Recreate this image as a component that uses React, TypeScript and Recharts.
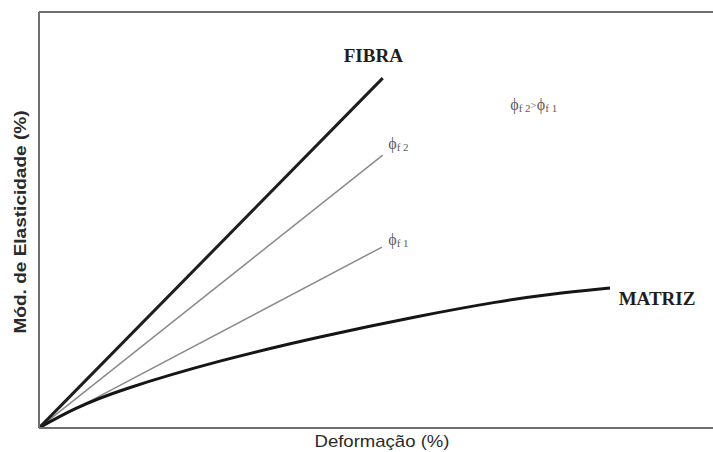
import React from "react";
import { LineChart, Line, XAxis, YAxis, ReferenceLine, ReferenceDot } from "recharts";

const fibraData = [
  { x: 0, y: 0 },
  { x: 51, y: 84.1 },
];
const phi2Data = [
  { x: 0, y: 0 },
  { x: 51, y: 65.6 },
];
const phi1Data = [
  { x: 0, y: 0 },
  { x: 50.9, y: 43.5 },
];
const matrizData = [
  { x: 0, y: 0 },
  { x: 5, y: 4.6 },
  { x: 12, y: 9.2 },
  { x: 26.85, y: 16.3 },
  { x: 41.69, y: 22 },
  { x: 56.53, y: 27 },
  { x: 68.4, y: 30.5 },
  { x: 75.82, y: 32.2 },
  { x: 84.72, y: 33.65 },
];

const xTitle = "Deformação (%)";
const yTitle = "Mód. de Elasticidade (%)";

const labelFibra = { x: 49.6, y: 89.7, text: "FIBRA" };
const labelMatriz = { x: 91.7, y: 31.25, text: "MATRIZ" };
const labelPhi2 = { x: 53.6, y: 68.3, sub: "f 2" };
const labelPhi1 = { x: 53.6, y: 45.2, sub: "f 1" };
const labelRel = { x: 73.4, y: 77.6 };

const AXIS = "#6f6f6f";
const SERIF = "'Liberation Serif', 'Times New Roman', serif";
const SANS = "'Liberation Sans', Arial, sans-serif";

const BoldText = (text: string) => (props: any) => (
  <text
    x={props.cx}
    y={props.cy + 7}
    textAnchor="middle"
    fontFamily={SERIF}
    fontWeight="bold"
    fontSize={19}
    fill="#1e1e1e"
  >
    {text}
  </text>
);

const PhiText = (sub: string) => (props: any) => (
  <text x={props.cx - 12} y={props.cy + 5} fontFamily={SERIF} fill="#5c5c5c">
    <tspan fontSize={16}>ϕ</tspan>
    <tspan fontSize={11} dy={2}>{sub}</tspan>
  </text>
);

const RelText = (props: any) => (
  <text x={props.cx} y={props.cy + 5} textAnchor="middle" fontFamily={SERIF} fill="#5c5c5c">
    <tspan fontSize={16}>ϕ</tspan>
    <tspan fontSize={11} dy={2}>f 2</tspan>
    <tspan fontSize={11} dy={-3}>&gt;</tspan>
    <tspan fontSize={16} dy={1}>ϕ</tspan>
    <tspan fontSize={11} dy={2}>f 1</tspan>
  </text>
);

const YTitle = (props: any) => {
  const vb = props.viewBox || props;
  const x = vb.x + vb.width - 13;
  const y = vb.y + vb.height / 2 + 2;
  return (
    <text
      x={x}
      y={y}
      transform={`rotate(-90, ${x}, ${y})`}
      textAnchor="middle"
      fontFamily={SANS}
      fontWeight="bold"
      fontSize={17}
      fill="#2a2a2a"
      textLength={223}
      lengthAdjust="spacingAndGlyphs"
    >
      {yTitle}
    </text>
  );
};

const XTitle = (props: any) => {
  const vb = props.viewBox || props;
  const x = vb.x + vb.width / 2 + 6;
  const y = vb.y + 19;
  return (
    <text
      x={x}
      y={y}
      textAnchor="middle"
      fontFamily={SANS}
      fontSize={17}
      fill="#2a2a2a"
      textLength={135}
      lengthAdjust="spacingAndGlyphs"
    >
      {xTitle}
    </text>
  );
};

export default function App() {
  return (
    <div style={{ position: "absolute", left: 0, top: 0, background: "#fff" }}>
      <LineChart width={713} height={452} margin={{ top: 12, right: 0, bottom: 0, left: 0 }}>
        <XAxis
          type="number"
          dataKey="x"
          domain={[0, 100]}
          allowDataOverflow
          tick={false}
          tickLine={false}
          height={24}
          axisLine={{ stroke: AXIS, strokeWidth: 2 }}
          label={{ content: XTitle }}
        />
        <YAxis
          type="number"
          dataKey="y"
          domain={[0, 100]}
          allowDataOverflow
          tick={false}
          tickLine={false}
          width={39}
          axisLine={{ stroke: AXIS, strokeWidth: 2 }}
          label={{ content: YTitle }}
        />
        <ReferenceLine y={100} stroke={AXIS} strokeWidth={2} />
        <Line data={phi1Data} dataKey="y" type="linear" stroke="#8a8a8a" strokeWidth={1.5} dot={false} isAnimationActive={false} />
        <Line data={phi2Data} dataKey="y" type="linear" stroke="#8a8a8a" strokeWidth={1.5} dot={false} isAnimationActive={false} />
        <Line data={matrizData} dataKey="y" type="basis" stroke="#151515" strokeWidth={3} dot={false} isAnimationActive={false} />
        <Line data={fibraData} dataKey="y" type="linear" stroke="#1e1e1e" strokeWidth={3} dot={false} isAnimationActive={false} />
        <ReferenceDot x={labelFibra.x} y={labelFibra.y} r={0} shape={BoldText(labelFibra.text)} />
        <ReferenceDot x={labelMatriz.x} y={labelMatriz.y} r={0} shape={BoldText(labelMatriz.text)} />
        <ReferenceDot x={labelPhi2.x} y={labelPhi2.y} r={0} shape={PhiText(labelPhi2.sub)} />
        <ReferenceDot x={labelPhi1.x} y={labelPhi1.y} r={0} shape={PhiText(labelPhi1.sub)} />
        <ReferenceDot x={labelRel.x} y={labelRel.y} r={0} shape={RelText} />
      </LineChart>
    </div>
  );
}
